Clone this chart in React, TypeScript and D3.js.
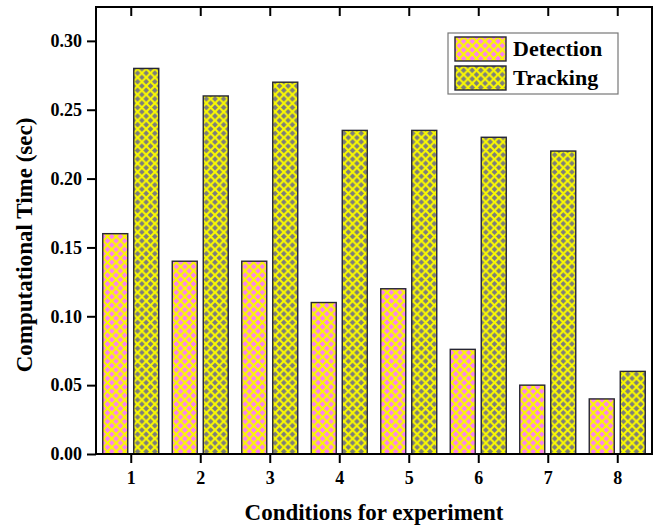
import * as d3 from "d3";
import React, { useEffect, useRef } from "react";

const conditions = [1, 2, 3, 4, 5, 6, 7, 8];
const detection = [0.16, 0.14, 0.14, 0.11, 0.12, 0.076, 0.05, 0.04];
const tracking = [0.28, 0.26, 0.27, 0.235, 0.235, 0.23, 0.22, 0.06];
const yTicks = [0.0, 0.05, 0.1, 0.15, 0.2, 0.25, 0.3];

const width = 659;
const height = 528;

const App = () => {
  const svgRef = useRef<SVGSVGElement>(null);

  useEffect(() => {
    const margin = { top: 7, right: 7, bottom: 74, left: 96 };
    const svg = d3.select(svgRef.current);
    svg.selectAll("*").remove();
    svg.attr("width", width).attr("height", height);

    const font = "'Liberation Serif', 'Times New Roman', serif";

    // hatch patterns
    const defs = svg.append("defs");
    const P = 8.6;
    const makePattern = (id: string, bg: string) => {
      const p = defs.append("pattern")
        .attr("id", id)
        .attr("patternUnits", "userSpaceOnUse")
        .attr("width", P)
        .attr("height", P);
      p.append("rect").attr("width", P).attr("height", P).attr("fill", bg);
      p.append("path")
        .attr("d", `M-1,-1 L${P + 1},${P + 1} M-1,${P + 1} L${P + 1},-1`)
        .attr("stroke", "#fafa00")
        .attr("stroke-width", 2.1);
    };
    makePattern("hatch-det", "#fb7ef8");
    makePattern("hatch-trk", "#7c7c7c");

    const x = d3.scaleLinear()
      .domain([0.5, 8.5])
      .range([margin.left, width - margin.right]);

    const y = d3.scaleLinear()
      .domain([0, 0.3246])
      .range([height - margin.bottom, margin.top]);

    const barW = 25;

    // bars
    svg.append("g")
      .selectAll("rect")
      .data(conditions)
      .enter()
      .append("rect")
      .attr("x", d => x(d) - 28)
      .attr("y", (d, i) => y(detection[i]))
      .attr("width", barW)
      .attr("height", (d, i) => y(0) - y(detection[i]))
      .attr("fill", "url(#hatch-det)")
      .attr("stroke", "#262633")
      .attr("stroke-width", 1.4);

    svg.append("g")
      .selectAll("rect")
      .data(conditions)
      .enter()
      .append("rect")
      .attr("x", d => x(d) + 3)
      .attr("y", (d, i) => y(tracking[i]))
      .attr("width", barW)
      .attr("height", (d, i) => y(0) - y(tracking[i]))
      .attr("fill", "url(#hatch-trk)")
      .attr("stroke", "#262633")
      .attr("stroke-width", 1.4);

    // frame
    svg.append("rect")
      .attr("x", margin.left)
      .attr("y", margin.top)
      .attr("width", width - margin.right - margin.left)
      .attr("height", height - margin.bottom - margin.top)
      .attr("fill", "none")
      .attr("stroke", "#000")
      .attr("stroke-width", 2);

    // y axis
    const yAxis = svg.append("g")
      .attr("transform", `translate(${margin.left}, 0)`)
      .call(d3.axisLeft(y).tickValues(yTicks).tickFormat(d3.format(".2f")).tickSize(9).tickPadding(5));
    yAxis.select(".domain").remove();
    yAxis.selectAll("line").attr("stroke-width", 2);
    yAxis.selectAll("text")
      .attr("font-family", font)
      .attr("font-weight", "bold")
      .attr("font-size", "18px")
      .attr("fill", "#000");

    // x axis
    const xAxis = svg.append("g")
      .attr("transform", `translate(0, ${height - margin.bottom})`)
      .call(d3.axisBottom(x).tickValues(conditions).tickFormat(d3.format("d")).tickSize(9).tickPadding(8));
    xAxis.select(".domain").remove();
    xAxis.selectAll("line").attr("stroke-width", 2);
    xAxis.selectAll("text")
      .attr("font-family", font)
      .attr("font-weight", "bold")
      .attr("font-size", "18px")
      .attr("fill", "#000");

    // top ticks pointing inward
    const topAxis = svg.append("g")
      .attr("transform", `translate(0, ${margin.top})`)
      .call(d3.axisTop(x).tickValues(conditions).tickSize(-9).tickFormat(() => ""));
    topAxis.select(".domain").remove();
    topAxis.selectAll("line").attr("stroke-width", 2);

    // X-Axis Label
    svg.append("text")
      .attr("x", (margin.left + width - margin.right) / 2)
      .attr("y", 520)
      .attr("font-family", font)
      .attr("font-weight", "bold")
      .attr("font-size", "23px")
      .attr("text-anchor", "middle")
      .text("Conditions for experiment");

    // Y-Axis Label
    svg.append("text")
      .attr("transform", "rotate(-90)")
      .attr("x", -245)
      .attr("y", 32)
      .attr("font-family", font)
      .attr("font-weight", "bold")
      .attr("font-size", "23px")
      .attr("text-anchor", "middle")
      .text("Computational Time (sec)");

    // legend
    const legend = svg.append("g").attr("transform", "translate(448, 33)");
    legend.append("rect")
      .attr("width", 170)
      .attr("height", 61)
      .attr("fill", "#fff")
      .attr("stroke", "#777")
      .attr("stroke-width", 1.2);

    const items = [
      { name: "Detection", fill: "url(#hatch-det)" },
      { name: "Tracking", fill: "url(#hatch-trk)" },
    ];
    items.forEach((it, i) => {
      const row = legend.append("g").attr("transform", `translate(7, ${4 + i * 29})`);
      row.append("rect")
        .attr("width", 51)
        .attr("height", 24)
        .attr("fill", it.fill)
        .attr("stroke", "#262633")
        .attr("stroke-width", 1.4);
      row.append("text")
        .attr("x", 58)
        .attr("y", 19)
        .attr("font-family", font)
        .attr("font-weight", "bold")
        .attr("font-size", "22px")
        .text(it.name);
    });
  }, []);

  return (
    <div style={{ position: "absolute", left: 0, top: 0 }}>
      <svg ref={svgRef}></svg>
    </div>
  );
};

export default App;
